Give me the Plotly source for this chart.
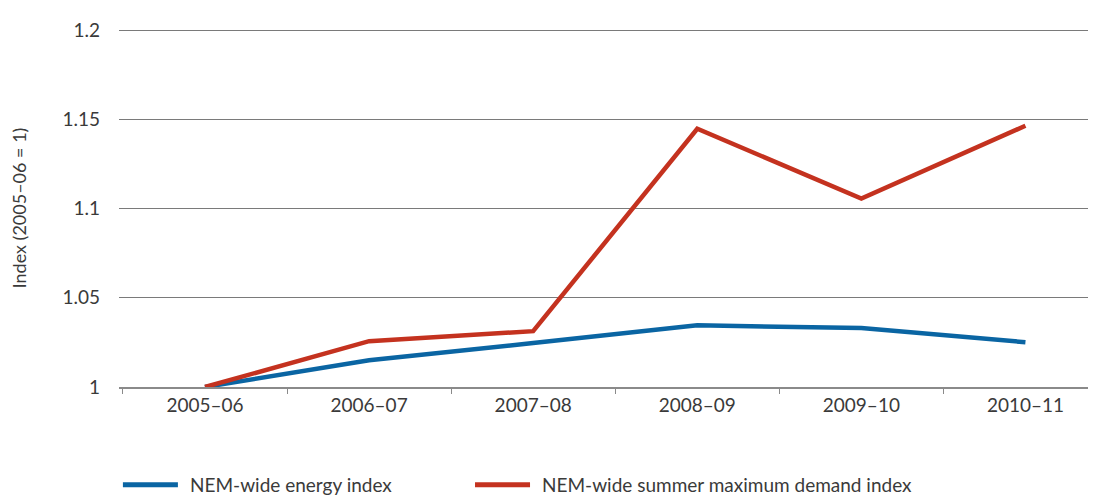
import plotly.graph_objects as go

years = ["2005–06", "2006–07", "2007–08", "2008–09", "2009–10", "2010–11"]
energy_index = [1.0, 1.015, 1.0246, 1.0346, 1.033, 1.0251]
demand_index = [1.0, 1.0257, 1.0313, 1.1447, 1.1056, 1.1464]
series_names = ["NEM-wide energy index", "NEM-wide summer maximum demand index"]

BLUE = "#0a65a3"
RED = "#c4321f"
TEXT = "#3a3a3a"
FONT = "Lato, sans-serif"

fig = go.Figure()
fig.add_trace(go.Scatter(x=years, y=energy_index, mode="lines", name=series_names[0],
                         line=dict(color=BLUE, width=4.5)))
fig.add_trace(go.Scatter(x=years, y=demand_index, mode="lines", name=series_names[1],
                         line=dict(color=RED, width=4.5)))

# page body adds an 8px margin, so the figure is a bit smaller than the window
fig.update_layout(
    width=1088, height=489,
    margin=dict(l=111, r=0, t=21, b=110, autoexpand=False),
    paper_bgcolor="white", plot_bgcolor="white",
    font=dict(family=FONT, size=19, color=TEXT),
    showlegend=False,
)

# hand-built legend at the bottom (long line samples like the original)
legend_y = -0.273
legend_items = [(series_names[0], BLUE, 0.004), (series_names[1], RED, 0.3644)]
for name, color, x0 in legend_items:
    fig.add_shape(type="line", xref="paper", yref="paper",
                  x0=x0, x1=x0 + 0.0563, y0=legend_y, y1=legend_y,
                  line=dict(color=color, width=5))
    fig.add_annotation(text=name, xref="paper", yref="paper",
                       x=x0 + 0.0665, y=legend_y, xanchor="left", yanchor="middle",
                       showarrow=False, font=dict(family=FONT, size=19, color=TEXT))

fig.update_xaxes(
    type="category", range=[-0.524, 5.43],
    showline=True, linecolor="#8a8a8a", linewidth=1.5,
    ticks="outside", tickson="boundaries", ticklen=5, tickcolor="#8a8a8a",
    showgrid=False, tickfont=dict(size=19, color=TEXT),
)
fig.update_yaxes(
    range=[1.0, 1.2006], tickvals=[1, 1.05, 1.1, 1.15, 1.2],
    ticktext=["1", "1.05", "1.1", "1.15", "1.2"],
    showgrid=True, gridcolor="#7a7a7a", gridwidth=1,
    zeroline=False, showline=False, ticks="", ticklabelstandoff=18,
    title=dict(text="Index (2005–06 = 1)", standoff=32, font=dict(size=18, color=TEXT)),
    tickfont=dict(size=19, color=TEXT),
)

fig.write_html("out.html")
